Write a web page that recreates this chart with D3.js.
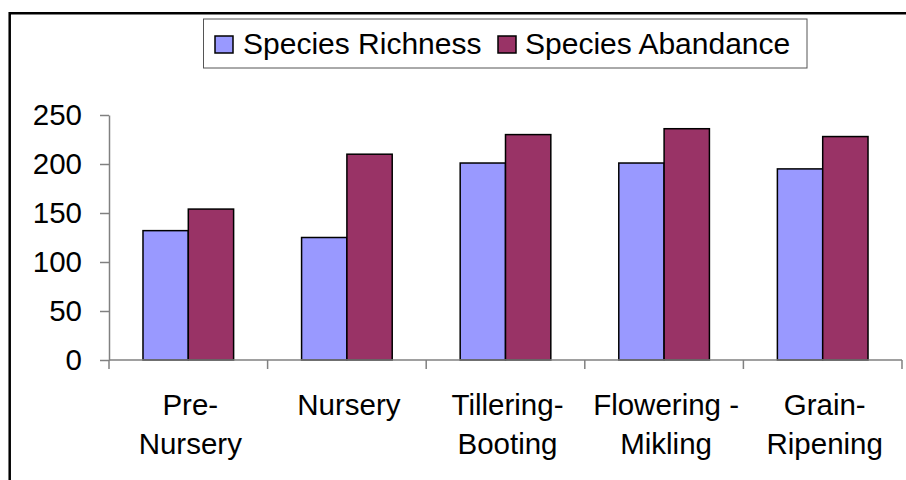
<!DOCTYPE html>
<html>
<head>
<meta charset="utf-8">
<script src="https://cdn.jsdelivr.net/npm/d3@7"></script>
<style>
  html, body { margin: 0; padding: 0; background: #fff; }
  svg { display: block; font-family: "Liberation Sans", Arial, sans-serif; }
</style>
</head>
<body>
<svg id="chart" width="906" height="480"></svg>
<script>
const categories = [["Pre-", "Nursery"], ["Nursery"], ["Tillering-", "Booting"], ["Flowering -", "Mikling"], ["Grain-", "Ripening"]];
const seriesNames = ["Species Richness", "Species Abandance"];
const richness = [132, 125, 201, 201, 195];
const abandance = [154, 210, 230, 236, 228];
const yTicks = [0, 50, 100, 150, 200, 250];
const colors = ["#9999FF", "#993366"];

const svg = d3.select("#chart");
const W = 906, H = 480;
const fontSize = 29.5;

// outer border
svg.append("path")
  .attr("d", `M9.7,${H} L9.7,13.3 L${W},13.3`)
  .attr("fill", "none").attr("stroke", "#000").attr("stroke-width", 2.5);

const x0 = 109, x1 = 902, yTop = 115, yBot = 360;
const keys = categories.map((c, i) => i);
const x = d3.scaleBand().domain(keys).range([x0, x1]).paddingInner(0).paddingOuter(0);
const step = x.bandwidth();
const bw = step / 3.5;
const xs = d3.scaleBand().domain([0, 1]).range([0, 2 * bw]);
const y = d3.scaleLinear().domain([0, 250]).range([yBot, yTop]);

const data = keys.map(i => ({ i, vals: [richness[i], abandance[i]] }));

// bars
const g = svg.append("g");
data.forEach(d => {
  const gx = x(d.i) + (step - 2 * bw) / 2;
  d.vals.forEach((v, s) => {
    g.append("rect")
      .attr("x", gx + xs(s))
      .attr("y", y(v))
      .attr("width", xs.bandwidth())
      .attr("height", y(0) - y(v))
      .attr("fill", colors[s])
      .attr("stroke", "#000")
      .attr("stroke-width", 1.5);
  });
});

// y axis
const yAxis = d3.axisLeft(y).tickValues(yTicks).tickSize(9).tickPadding(18).tickSizeOuter(0);
const ya = svg.append("g").attr("transform", `translate(${x0},0)`).call(yAxis);
ya.select(".domain").attr("stroke", "#808080").attr("stroke-width", 1.5);
ya.selectAll(".tick line").attr("stroke", "#808080").attr("stroke-width", 1.5);
ya.selectAll(".tick text").attr("font-size", fontSize).attr("fill", "#000")
  .attr("font-family", '"Liberation Sans", Arial, sans-serif');

// x axis (category boundaries as ticks)
const xa = svg.append("g").attr("transform", `translate(0,${yBot})`);
xa.append("line").attr("x1", x0).attr("x2", x1).attr("y1", 0).attr("y2", 0)
  .attr("stroke", "#808080").attr("stroke-width", 1.5);
const bounds = keys.map(i => x(i)).concat([x1]);
xa.selectAll("line.t").data(bounds).enter().append("line")
  .attr("class", "t")
  .attr("x1", d => d).attr("x2", d => d).attr("y1", 0).attr("y2", 9)
  .attr("stroke", "#808080").attr("stroke-width", 1.5);

// category labels
keys.forEach(i => {
  const cx = x(i) + step / 2 + 2;
  const t = svg.append("text").attr("text-anchor", "middle")
    .attr("font-size", fontSize).attr("fill", "#000");
  categories[i].forEach((line, j) => {
    t.append("tspan").attr("x", cx).attr("y", 415 + j * 39).text(line);
  });
});

// legend
const lg = svg.append("g");
lg.append("rect").attr("x", 203.5).attr("y", 19).attr("width", 603.5).attr("height", 49)
  .attr("fill", "#fff").attr("stroke", "#555").attr("stroke-width", 1);
const legendItems = [{ sx: 215, tx: 243 }, { sx: 498, tx: 525 }];
seriesNames.forEach((name, s) => {
  lg.append("rect").attr("x", legendItems[s].sx).attr("y", 36).attr("width", 18).attr("height", 17)
    .attr("fill", colors[s]).attr("stroke", "#000").attr("stroke-width", 1.5);
  lg.append("text").attr("x", legendItems[s].tx).attr("y", 54)
    .attr("font-size", 30).attr("fill", "#000").text(name);
});
</script>
</body>
</html>
